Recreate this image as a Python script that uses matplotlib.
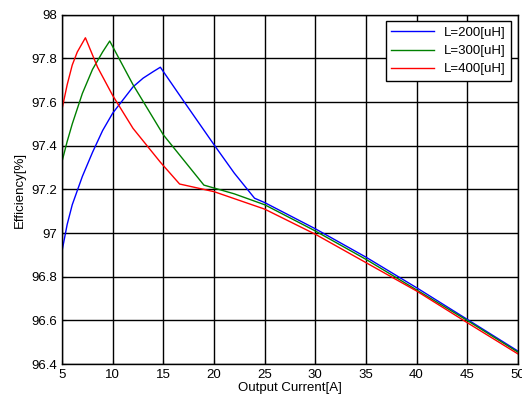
import matplotlib
matplotlib.use("Agg")
import matplotlib.pyplot as plt
from matplotlib.ticker import FuncFormatter

plt.rcParams["font.family"] = ["Liberation Sans", "DejaVu Sans"]

# L=200uH
x200 = [5, 5.5, 6, 7, 8, 9, 10, 11, 12, 13, 14, 14.7, 17, 20, 22, 24, 25, 30, 35, 40, 45, 50]
y200 = [96.92, 97.04, 97.13, 97.26, 97.37, 97.47, 97.55, 97.61, 97.67, 97.71, 97.74, 97.76,
        97.605, 97.405, 97.275, 97.16, 97.14, 97.02, 96.89, 96.75, 96.605, 96.46]

# L=300uH
x300 = [5, 5.5, 6, 7, 8, 9, 9.7, 12, 15, 19, 22, 25, 30, 35, 40, 45, 50]
y300 = [97.33, 97.42, 97.5, 97.64, 97.75, 97.83, 97.88, 97.68, 97.45, 97.22, 97.18,
        97.13, 97.01, 96.88, 96.74, 96.6, 96.455]

# L=400uH
x400 = [5, 5.5, 6, 6.5, 7.3, 8.5, 10, 12, 14.7, 16.6, 20, 25, 30, 35, 40, 45, 50]
y400 = [97.57, 97.68, 97.77, 97.83, 97.895, 97.76, 97.63, 97.48, 97.325, 97.225, 97.19,
        97.11, 96.995, 96.865, 96.735, 96.59, 96.447]

xticks = [5, 10, 15, 20, 25, 30, 35, 40, 45, 50]
yticks = [96.4, 96.6, 96.8, 97, 97.2, 97.4, 97.6, 97.8, 98]

fig = plt.figure(figsize=(5.22, 4.01), dpi=100)
ax = fig.add_axes([0.119, 0.092, 0.873, 0.871])

ax.plot(x200, y200, color="b", lw=1, label="L=200[uH]")
ax.plot(x300, y300, color=(0, 0.5, 0), lw=1, label="L=300[uH]")
ax.plot(x400, y400, color="r", lw=1, label="L=400[uH]")

ax.set_xlim(5, 50)
ax.set_ylim(96.4, 98)
ax.set_xticks(xticks)
ax.set_yticks(yticks)
ax.yaxis.set_major_formatter(FuncFormatter(lambda v, p: "%g" % round(v, 2)))
ax.tick_params(direction="in", length=3, labelsize=9.5, colors="black")
ax.grid(True, color="black", lw=1, ls="-")
for s in ax.spines.values():
    s.set_color("black")
    s.set_linewidth(1)

ax.set_xlabel("Output Current[A]", fontsize=9.5, labelpad=1)
ax.set_ylabel("Efficiency[%]", fontsize=9.5, labelpad=4)

leg = ax.legend(loc="upper right", fontsize=9.5, fancybox=False, edgecolor="black",
                framealpha=1, borderaxespad=0.5, handlelength=3.2, labelspacing=0.45)
leg.get_frame().set_linewidth(1)

fig.savefig("out.png", dpi=100)
